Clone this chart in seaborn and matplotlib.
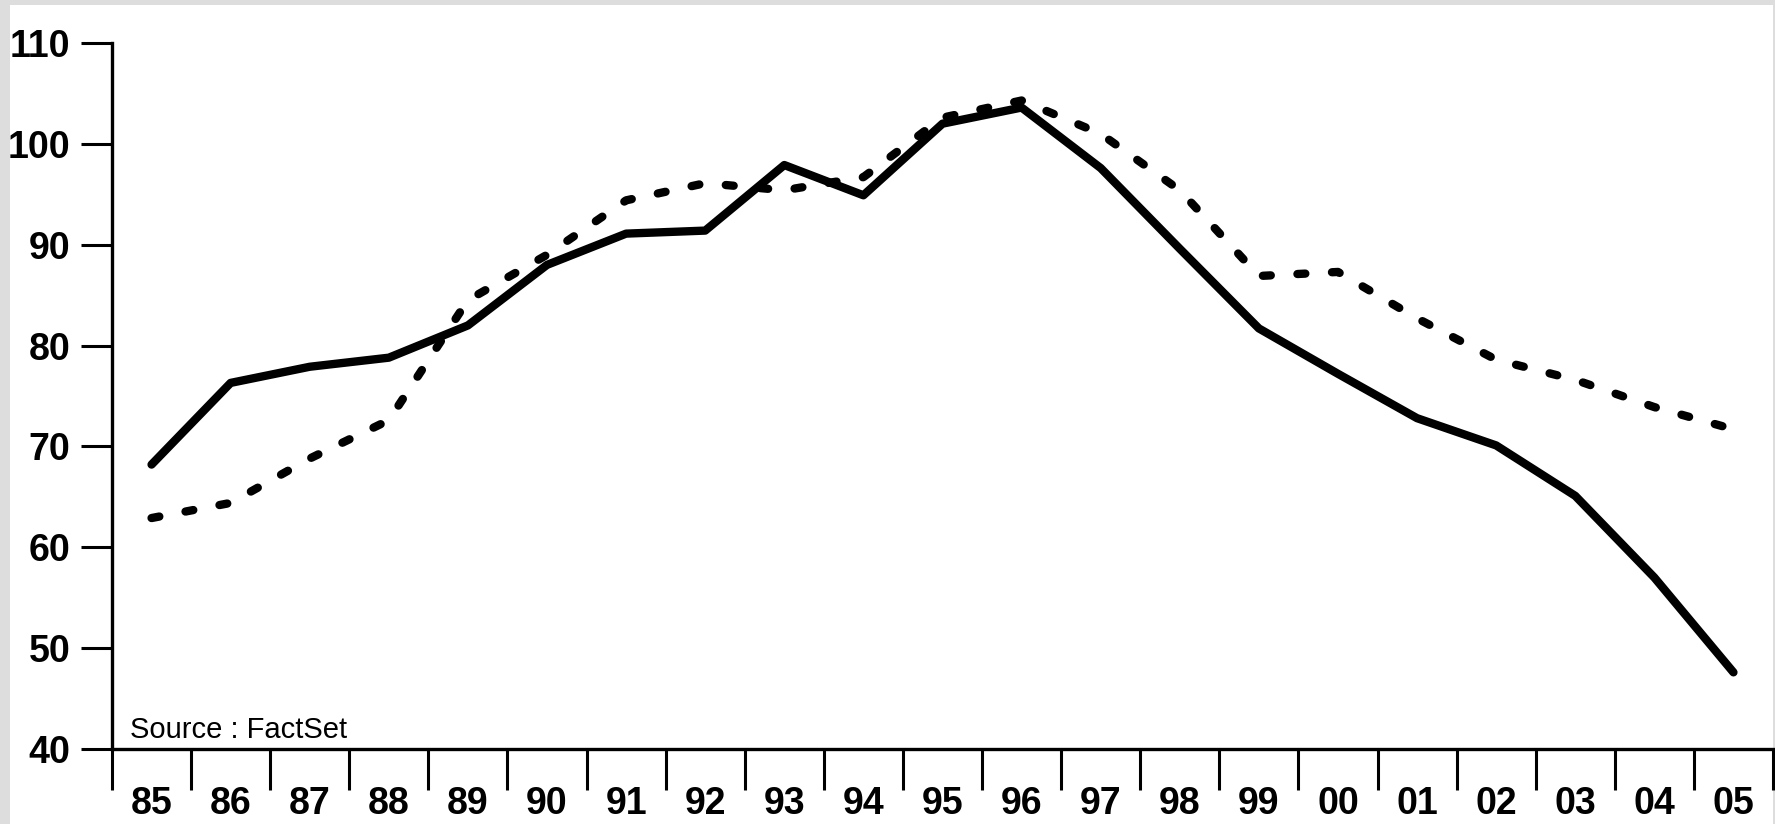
import numpy as np
import pandas as pd
import matplotlib
matplotlib.use("Agg")
import matplotlib.pyplot as plt
from matplotlib.patches import Rectangle
import seaborn as sns

# year labels (one category per year)
years = ["85", "86", "87", "88", "89", "90", "91", "92", "93", "94", "95",
         "96", "97", "98", "99", "00", "01", "02", "03", "04", "05"]

# solid series
solid = [68.2, 76.3, 77.9, 78.8, 82.0, 88.0, 91.1, 91.4, 97.9, 94.9, 102.0,
         103.6, 97.6, 89.6, 81.7, 77.2, 72.8, 70.1, 65.1, 57.0, 47.6]

# dashed series
dashed = [62.9, 64.4, 68.8, 72.6, 84.5, 89.0, 94.4, 96.1, 95.4, 96.7, 102.6,
          104.3, 101.0, 95.4, 86.9, 87.3, 82.7, 78.6, 76.6, 73.9, 71.7]

y_ticks = [40, 50, 60, 70, 80, 90, 100, 110]
source = "Source : FactSet"

sns.set_style("ticks")
plt.rcParams["font.family"] = ["Liberation Sans", "DejaVu Sans"]
plt.rcParams["text.color"] = "black"
plt.rcParams["xtick.color"] = "black"
plt.rcParams["ytick.color"] = "black"
plt.rcParams["axes.edgecolor"] = "black"

fig = plt.figure(figsize=(17.75, 8.24), dpi=100, facecolor="#dddddd")
# white panel inside the grey frame
fig.patches.append(Rectangle((10 / 1775, 0), 1763 / 1775, 819 / 824,
                             transform=fig.transFigure, facecolor="white",
                             edgecolor="none", zorder=-10))
ax = fig.add_axes([112 / 1775, 75 / 824, 1661 / 1775, 706 / 824])
ax.set_facecolor("none")
ax.set_zorder(5)

df = pd.DataFrame({"pos": np.arange(len(years)) + 0.5,
                   "solid": solid, "dashed": dashed})

sns.lineplot(data=df, x="pos", y="dashed", ax=ax, color="black", lw=6,
             linestyle=(0, (0.95, 3.2)), dash_capstyle="round")
sns.lineplot(data=df, x="pos", y="solid", ax=ax, color="black", lw=6)

ax.set_xlim(0, len(years))
ax.set_ylim(40, 110)
ax.set_xlabel("")
ax.set_ylabel("")

# category boundaries as major ticks, labels on minor ticks at centres
ax.set_xticks(np.arange(len(years) + 1))
ax.set_xticklabels([])
ax.set_xticks(np.arange(len(years)) + 0.5, minor=True)
ax.set_xticklabels(years, minor=True, fontsize=27, fontweight="bold",
                   color="black")
ax.tick_params(axis="x", which="major", direction="out", length=29.5, width=2.2)
ax.tick_params(axis="x", which="minor", length=0, pad=27)

ax.set_yticks(y_ticks)
ax.set_yticklabels([str(v) for v in y_ticks], fontsize=27, fontweight="bold",
                   color="black")
ax.tick_params(axis="y", direction="out", length=22, width=2.2, pad=8)

sns.despine(ax=ax)
for s in ["left", "bottom"]:
    ax.spines[s].set_linewidth(2.4)

ax.text(0.23, 41.1, source, fontsize=21, color="black",
        ha="left", va="baseline")

fig.savefig("out.png", dpi=100, facecolor=fig.get_facecolor())
